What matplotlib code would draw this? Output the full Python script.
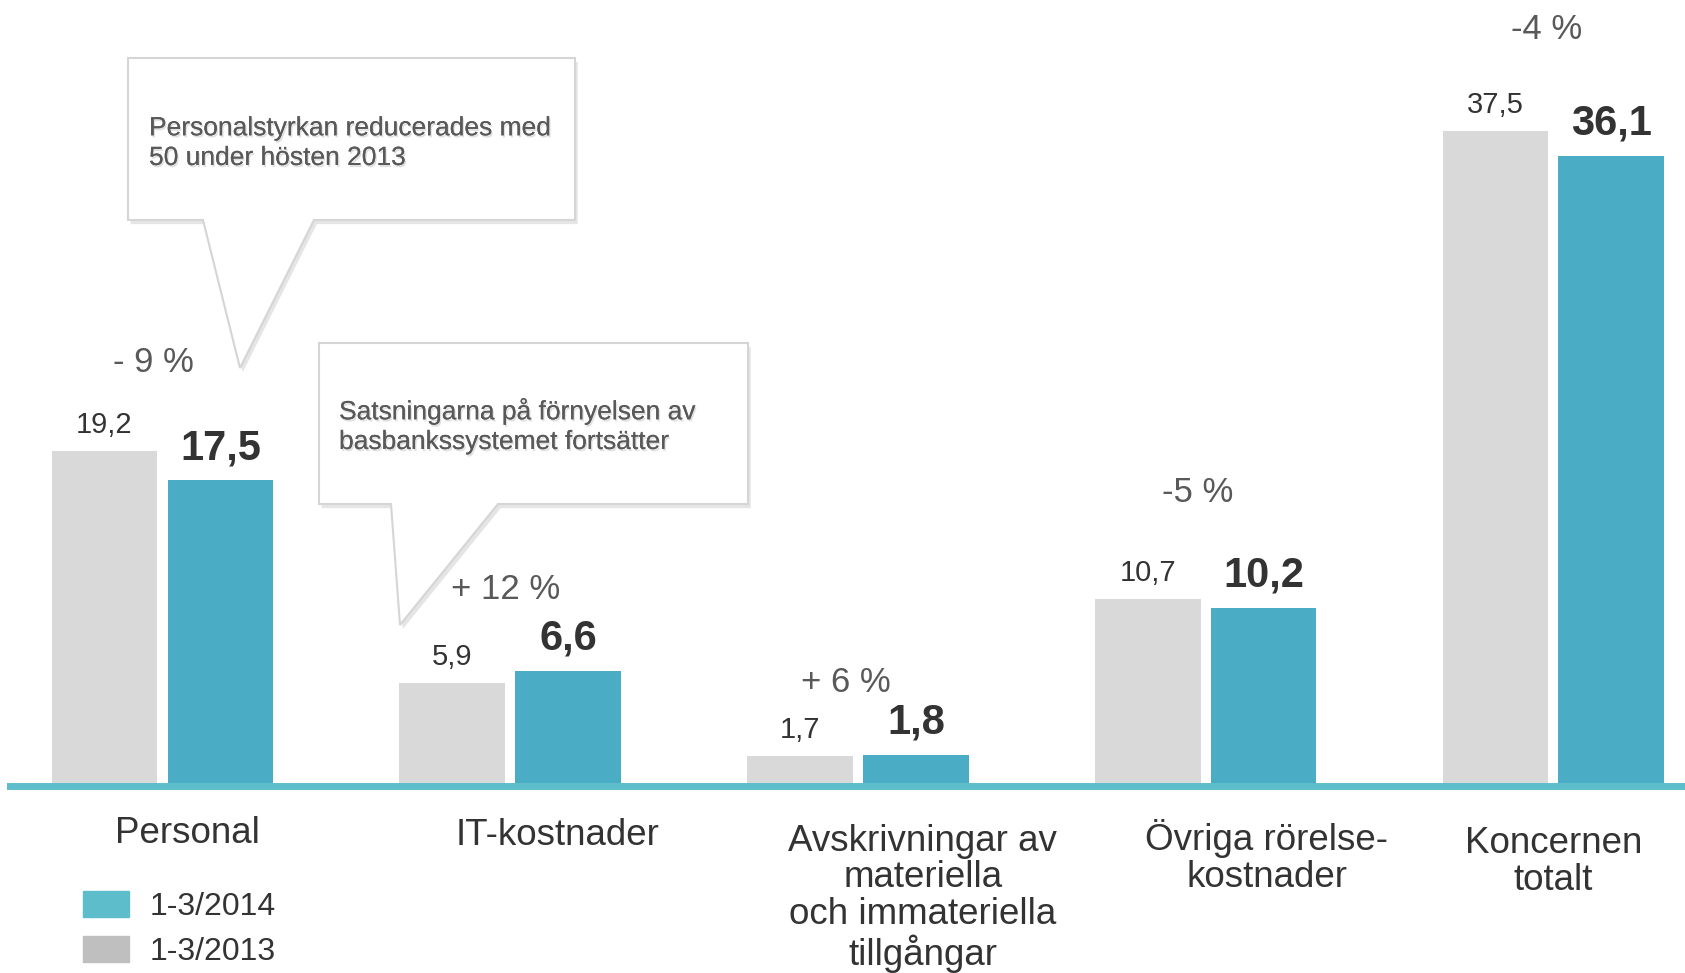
import matplotlib
matplotlib.use("Agg")
import matplotlib.pyplot as plt
import matplotlib.transforms as mtransforms
import matplotlib.patheffects as pe
from matplotlib.patches import Polygon, Patch
import numpy as np

plt.rcParams['font.family'] = ['Liberation Sans', 'DejaVu Sans']

# data
categories = ["Personal", "IT-kostnader",
              "Avskrivningar av\nmateriella\noch immateriella\ntillgångar",
              "Övriga rörelse-\nkostnader", "Koncernen\ntotalt"]
v2013 = [19.2, 5.9, 1.7, 10.7, 37.5]
v2014 = [17.5, 6.6, 1.8, 10.2, 36.1]
changes = ["- 9 %", "+ 12 %", "+ 6 %", "-5 %", "-4 %"]
series_labels = ["1-3/2014", "1-3/2013"]
notes = ["Personalstyrkan reducerades med\n50 under hösten 2013",
         "Satsningarna på förnyelsen av\nbasbankssystemet fortsätter"]

# layout (pixel offsets)
pct_dx = [-9, -5, -12, -8, -7]
pct_dy = [79, 72, 63, 97, 92]
cat_dx = [25, 47, 65, 61, 0]
cat_dy = [57, 59, 67, 64, 67]   # baseline of first line below zero
CAT_PITCH = 37.3
NOTE_PITCH = 32

W, H = 1685, 973
fig = plt.figure(figsize=(W / 100, H / 100), dpi=100)
ax = fig.add_axes([0, 0, 1, 1])
ax.set_xlim(-0.4674, 4.3787)
ax.set_ylim(-10.71, 45.02)
ax.axis('off')

GRAY = '#D9D9D9'
BLUE = '#4BACC6'
TXT = '#333333'
PCT = '#595959'

x = np.arange(len(categories))
off = 0.1667
w = 0.304
ax.bar(x - off, v2013, w, color=GRAY, zorder=2)
ax.bar(x + off, v2014, w, color=BLUE, zorder=2)
ax.axhline(0, xmin=10 / W, xmax=1, color='#5DBDCB', lw=5, zorder=3)

def fmt(v):
    return f"{v:.1f}".replace('.', ',')

for i in range(len(categories)):
    ax.annotate(fmt(v2013[i]), xy=(x[i] - off, v2013[i]), xytext=(0, 18),
                textcoords='offset pixels', ha='center', va='baseline',
                fontsize=21, color=TXT)
    ax.annotate(fmt(v2014[i]), xy=(x[i] + off, v2014[i]), xytext=(0, 21),
                textcoords='offset pixels', ha='center', va='baseline',
                fontsize=30, color=TXT, fontweight='bold')
    top = max(v2013[i], v2014[i])
    ax.annotate(changes[i], xy=(x[i], top), xytext=(pct_dx[i], pct_dy[i]),
                textcoords='offset pixels', ha='center', va='baseline',
                fontsize=25, color=PCT)
    nlines = categories[i].count('\n')
    ax.annotate(categories[i], xy=(x[i], 0),
                xytext=(cat_dx[i], -(cat_dy[i] + nlines * CAT_PITCH)),
                textcoords='offset pixels', ha='center', va='baseline',
                fontsize=26.5, color=TXT, linespacing=1.07,
                multialignment='center')

# callouts in pixel coordinates (origin top-left)
pix = mtransforms.Affine2D().scale(1 / W, -1 / H).translate(0, 1) + fig.transFigure

def callout(box, base, tip, text, txy):
    l, t, r, b = box
    pts = [(l, t), (r, t), (r, b), (base[1], b), tip, (base[0], b), (l, b)]
    poly = Polygon(pts, closed=True, facecolor='white', edgecolor='#D5D5D5',
                   lw=1.5, transform=pix, zorder=5)
    poly.set_path_effects([pe.withSimplePatchShadow(offset=(2, -3),
                                                    shadow_rgbFace='#000000',
                                                    alpha=0.10)])
    fig.add_artist(poly)
    last = txy[1] + text.count('\n') * NOTE_PITCH
    t_ = fig.text(txy[0] / W, 1 - last / H, text, fontsize=19, color=PCT,
                  ha='left', va='baseline', linespacing=1.3, zorder=6)
    t_.set_path_effects([pe.withSimplePatchShadow(offset=(1, -1.5),
                                                  shadow_rgbFace='#000000',
                                                  alpha=0.12),
                         pe.Normal()])

callout((128, 58, 575, 220), (203, 314), (240, 368), notes[0], (149, 133))
callout((319, 343, 748, 504), (391, 498), (400, 625), notes[1], (339, 417))

handles = [Patch(color='#5DBDCB'), Patch(color='#BFBFBF')]
fig.legend(handles, series_labels, loc='upper left',
           bbox_to_anchor=(83 / W, 1 - 891 / H), frameon=False,
           fontsize=23, handlelength=1.43, handleheight=0.87,
           handletextpad=0.65, labelspacing=0.45, borderpad=0,
           borderaxespad=0, labelcolor=TXT)

fig.savefig("out.png", dpi=100)
